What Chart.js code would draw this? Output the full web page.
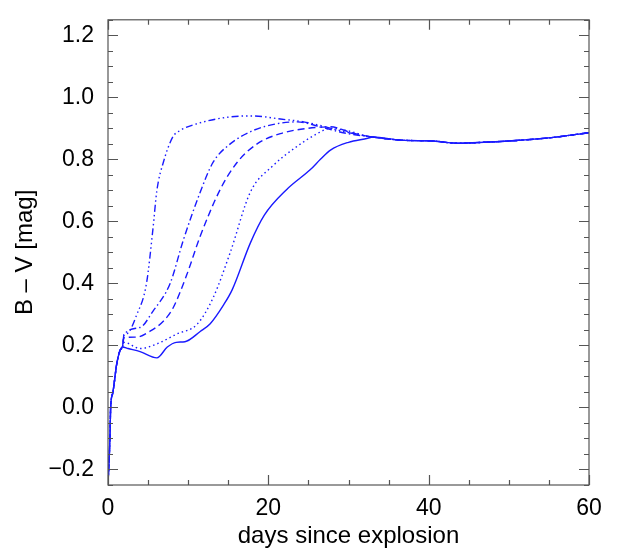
<!DOCTYPE html>
<html>
<head>
<meta charset="utf-8">
<script src="https://cdn.jsdelivr.net/npm/chart.js@4"></script>
<style>
  html, body { margin: 0; padding: 0; background: #fff; }
  #wrap { width: 620px; height: 554px; }
</style>
</head>
<body>
<div id="wrap"><canvas id="bv"></canvas></div>
<script>
// common late-time tail shared by every model
const tailDays = [33, 36.5, 40.6, 43.6, 46.9, 51, 55.3, 60]
const tailBV   = [0.872, 0.862, 0.859, 0.852, 0.855, 0.861, 0.870, 0.886]

// early rise (same for all)
const riseDays = [0, 0.25, 0.33, 0.6, 1.1, 1.5, 1.8]
const riseBV   = [-0.25, -0.09, 0.0, 0.047, 0.142, 0.184, 0.195]

// solid
const solidDays = [2.5, 4, 6.1, 7.4, 8.5, 9.6, 11.5, 12.75, 14.4, 15.5, 17.75, 19.5, 22.3, 25.25, 26.5, 27.75, 30, 32.4]
const solidBV   = [0.19, 0.18, 0.16, 0.195, 0.21, 0.212, 0.245, 0.27, 0.33, 0.38, 0.53, 0.62, 0.703, 0.767, 0.80, 0.83, 0.855, 0.868]

// dotted
const dotDays = [2.0, 4, 6.1, 8.6, 11.1, 13.1, 15.25, 17.75, 20.6, 23.6, 26.1, 27.75, 30.25, 32.4]
const dotBV   = [0.21, 0.19, 0.205, 0.237, 0.268, 0.353, 0.50, 0.694, 0.78, 0.842, 0.883, 0.90, 0.89, 0.874]

// dashed
const dashDays = [2.0, 3.6, 5.25, 6.9, 8.1, 9.8, 11.5, 14, 16.1, 18.6, 21.5, 24.9, 27.75, 30.5]
const dashBV   = [0.225, 0.227, 0.246, 0.278, 0.32, 0.426, 0.552, 0.703, 0.79, 0.85, 0.883, 0.90, 0.905, 0.885]

// dash-dot
const dashDotDays = [2.0, 4, 5.6, 7.75, 9.4, 11.5, 13.1, 15.25, 18.1, 21.1, 23.6, 26.5, 29.5]
const dashDotBV   = [0.235, 0.258, 0.31, 0.40, 0.54, 0.694, 0.79, 0.85, 0.893, 0.915, 0.921, 0.905, 0.885]

// dash-dot-dot-dot
const dash3DotDays = [2.0, 2.3, 3.6, 4.8, 5.6, 6.1, 6.9, 8.1, 9, 11.1, 15.25, 18.1, 21.5, 24.4, 26.5, 29.4, 32.4]
const dash3DotBV   = [0.235, 0.237, 0.30, 0.40, 0.574, 0.70, 0.79, 0.873, 0.893, 0.915, 0.937, 0.94, 0.93, 0.921, 0.909, 0.89, 0.874]

const xMajor = [0, 20, 40, 60]
const yMajor = [-0.2, 0, 0.2, 0.4, 0.6, 0.8, 1.0, 1.2]

function pts(days, vals) {
  return days.map((d, i) => ({ x: d, y: vals[i] }))
}
function withRiseAndTail(days, vals) {
  return pts(riseDays, riseBV).concat(pts(days, vals), pts(tailDays, tailBV))
}

const blue = '#1a1aff'
function line(data, dash) {
  return { data: data, borderColor: blue, borderWidth: 1.4, borderDash: dash,
           pointRadius: 0, fill: false, cubicInterpolationMode: 'monotone' }
}

// frame + inward ticks on all four sides, major and minor
const frameTicks = {
  id: 'frameTicks',
  afterDraw(chart) {
    const { ctx, chartArea: a, scales } = chart
    const xs = scales.x, ys = scales.y
    ctx.save()
    ctx.strokeStyle = '#555'
    ctx.lineWidth = 1.2
    ctx.strokeRect(a.left, a.top, a.right - a.left, a.bottom - a.top)
    ctx.beginPath()
    for (let v = 0; v <= 60.001; v += 5) {
      const px = Math.round(xs.getPixelForValue(v)) + 0.5
      const len = (v % 20 === 0) ? 10 : 5
      ctx.moveTo(px, a.bottom); ctx.lineTo(px, a.bottom - len)
      ctx.moveTo(px, a.top); ctx.lineTo(px, a.top + len)
    }
    for (let k = -5; k <= 25; k++) {
      const v = k * 0.05
      const py = Math.round(ys.getPixelForValue(v)) + 0.5
      const len = (k % 4 === 0) ? 10 : 5
      ctx.moveTo(a.left, py); ctx.lineTo(a.left + len, py)
      ctx.moveTo(a.right, py); ctx.lineTo(a.right - len, py)
    }
    ctx.stroke()
    ctx.restore()
  }
}

Chart.defaults.font.family = '"Liberation Sans", Arial, sans-serif'
Chart.defaults.color = '#000'

new Chart(document.getElementById('bv'), {
  type: 'line',
  plugins: [frameTicks],
  data: {
    datasets: [
      line(pts(riseDays, riseBV).concat(pts(solidDays, solidBV), pts(tailDays, tailBV)), []),
      line(withRiseAndTail(dotDays, dotBV), [1.5, 3]),
      line(withRiseAndTail(dashDays, dashBV), [7, 4]),
      line(withRiseAndTail(dashDotDays, dashDotBV), [7, 3, 1.5, 3]),
      line(withRiseAndTail(dash3DotDays, dash3DotBV), [7, 3, 1.5, 3, 1.5, 3, 1.5, 3])
    ]
  },
  options: {
    responsive: true,
    maintainAspectRatio: false,
    animation: false,
    layout: { padding: { top: 9, right: 31, left: 0, bottom: 0 } },
    plugins: { legend: { display: false }, tooltip: { enabled: false } },
    scales: {
      x: {
        type: 'linear', min: 0, max: 60,
        grid: { display: false }, border: { display: false },
        afterBuildTicks(s) { s.ticks = xMajor.map(v => ({ value: v })) },
        afterFit(s) { s.height = 69 },
        ticks: { font: { size: 23 }, padding: 2, maxRotation: 0 },
        title: { display: true, text: 'days since explosion', font: { size: 24 }, padding: { top: 0, bottom: 3 } }
      },
      y: {
        type: 'linear', min: -0.25, max: 1.25,
        grid: { display: false }, border: { display: false },
        afterBuildTicks(s) { s.ticks = yMajor.map(v => ({ value: v })) },
        afterFit(s) { s.width = 108 },
        ticks: {
          font: { size: 23 }, padding: 6,
          callback: v => (Math.abs(v) < 1e-9 ? '0.0' : v.toFixed(1).replace('-', '\u2212'))
        },
        title: { display: true, text: 'B \u2013 V [mag]', font: { size: 24 }, padding: { top: 11, bottom: 0 } }
      }
    }
  }
})
</script>
</body>
</html>
